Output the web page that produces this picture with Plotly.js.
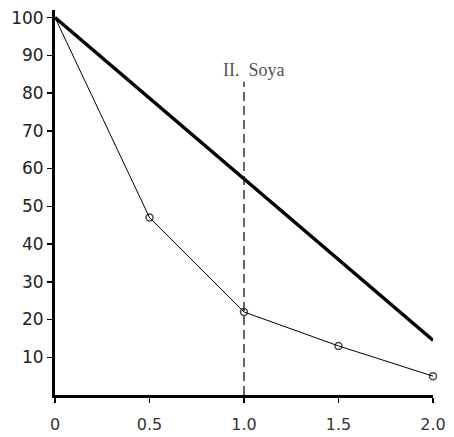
<!DOCTYPE html>
<html><head><meta charset="utf-8">
<script src="https://cdn.plot.ly/plotly-3.0.1.min.js"></script>
<style>html,body{margin:0;padding:0;background:#fff;}#chart{width:454px;height:437px;}</style>
</head><body><div id="chart"></div>
<script>
const xThick = [0, 2.0];
const yThick = [100, 14.5];
const xThin = [0, 0.5, 1.0, 1.5, 2.0];
const yThin = [100, 47, 22, 13, 5];
const xTickVals = [0, 0.5, 1.0, 1.5, 2.0];
const xTickText = ["0", "0.5", "1.0", "1.5", "2.0"];
const yTickVals = [10, 20, 30, 40, 50, 60, 70, 80, 90, 100];
const dividerX = 1.0;
const dividerTop = 83;
const labelText = "II.&nbsp;&nbsp;Soya";

const traces = [
  {x: xThick, y: yThick, mode: 'lines', line: {color: '#000', width: 3.5}, hoverinfo: 'skip', cliponaxis: false},
  {x: xThin, y: yThin, mode: 'lines+markers', line: {color: '#000', width: 1},
   marker: {symbol: 'circle-open', size: xThin.map((v, i) => i === 0 ? 0 : 7), color: '#000', line: {width: 1.5}}, cliponaxis: false}
];
const layout = {
  width: 454, height: 437,
  margin: {l: 55, r: 21, t: 10, b: 42},
  paper_bgcolor: '#fff', plot_bgcolor: '#fff',
  showlegend: false,
  font: {family: 'DejaVu Sans, sans-serif', color: '#000', size: 16},
  xaxis: {range: [0, 2.0], tickvals: xTickVals, ticktext: xTickText, showgrid: false, zeroline: false,
          showline: true, linewidth: 3, linecolor: '#000', ticks: 'outside', ticklen: 5, tickwidth: 1.5,
          tickcolor: '#000', ticklabelstandoff: 8, tickfont: {size: 16, color: '#333'}},
  yaxis: {range: [0, 102], tickvals: yTickVals, showgrid: false, zeroline: false,
          showline: true, linewidth: 3, linecolor: '#000', ticks: 'outside', ticklen: 5, tickwidth: 1.5,
          tickcolor: '#000', tickfont: {size: 17, color: '#222'}},
  shapes: [{type: 'line', x0: dividerX, x1: dividerX, y0: 0, y1: dividerTop, xref: 'x', yref: 'y',
            line: {color: '#000', width: 1.2, dash: '9px,5px'}}],
  annotations: [{x: dividerX, y: 86, xref: 'x', yref: 'y', text: labelText, showarrow: false,
                 xanchor: 'center', xshift: 10, font: {family: 'Liberation Serif, serif', size: 18, color: '#555'}}]
};
Plotly.newPlot('chart', traces, layout, {displayModeBar: false, staticPlot: true});
</script></body></html>
